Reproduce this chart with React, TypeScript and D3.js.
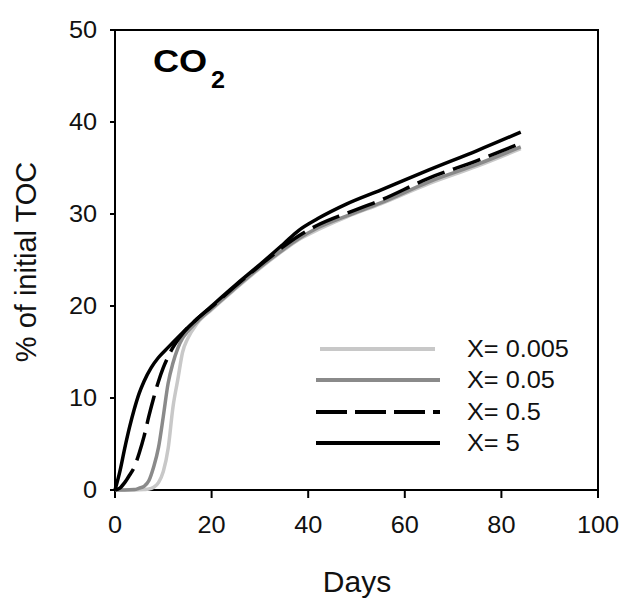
import React from "react";
import * as d3 from "d3";

const days5 = [0, 1, 2, 3, 4, 5, 6, 7.5, 9, 11, 14, 17, 20, 25, 30, 35, 38, 42, 48, 55, 65, 75, 84];
const vals5 = [0, 2, 4.5, 6.8, 8.8, 10.5, 11.8, 13.3, 14.4, 15.5, 17.1, 18.6, 20, 22.3, 24.5, 26.8, 28.2, 29.5, 31.1, 32.6, 34.8, 36.9, 38.9];

const days05 = [0, 1, 2, 3, 4, 5, 6, 7, 8, 9, 10, 11, 12, 14, 17, 20, 25, 30, 35, 38, 42, 48, 55, 65, 75, 84];
const vals05 = [0, 0.2, 0.8, 1.6, 2.5, 4, 5.8, 8, 10, 11.8, 13.3, 14.5, 15.5, 17, 18.6, 19.9, 22.2, 24.4, 26.5, 27.6, 28.8, 30.1, 31.5, 33.9, 35.8, 37.7];

const days005 = [0, 2, 4, 5, 6, 7, 8, 9, 10, 11, 12, 13, 14, 15, 17, 20, 25, 30, 35, 38, 42, 48, 55, 65, 75, 84];
const vals005 = [0, 0, 0.05, 0.2, 0.4, 1, 2.5, 4.6, 8, 11.6, 13.8, 15.4, 16.5, 17.2, 18.3, 19.7, 22, 24.2, 26.2, 27.3, 28.5, 29.8, 31.2, 33.5, 35.4, 37.3];

const days0005 = [0, 4, 6, 7, 8, 9, 10, 11, 12, 13, 14, 15, 17, 20, 25, 30, 35, 38, 42, 48, 55, 65, 75, 84];
const vals0005 = [0, 0, 0.05, 0.1, 0.3, 0.8, 2, 4.5, 9, 12, 15, 16.4, 18.1, 19.6, 21.9, 24.1, 26.1, 27.2, 28.3, 29.7, 31.1, 33.3, 35.2, 37.1];

const xTicks = [0, 20, 40, 60, 80, 100];
const yTicks = [0, 10, 20, 30, 40, 50];
const legendLabels = ["X= 0.005", "X= 0.05", "X= 0.5", "X= 5"];

const FONT = "'Liberation Sans', Arial, sans-serif";

export default function App() {
  const x = d3.scaleLinear().domain([0, 100]).range([115, 598]);
  const y = d3.scaleLinear().domain([0, 50]).range([490, 30]);

  const series = [
    { d: days0005, v: vals0005, color: "#c8c8c8", dash: undefined, w: 3.5 },
    { d: days005, v: vals005, color: "#8a8a8a", dash: undefined, w: 3.5 },
    { d: days05, v: vals05, color: "#000", dash: "29,9", w: 3.5 },
    { d: days5, v: vals5, color: "#000", dash: undefined, w: 3.5 },
  ];

  const line = d3
    .line<[number, number]>()
    .x((p) => x(p[0]))
    .y((p) => y(p[1]))
    .curve(d3.curveMonotoneX);

  const legendY = [349, 380, 412, 443];

  return (
    <svg width={621} height={601} style={{ display: "block", position: "absolute", left: 0, top: 0 }}>
      <rect x={0} y={0} width={621} height={601} fill="#fff" />
      {/* frame */}
      <rect x={x(0)} y={y(50)} width={x(100) - x(0)} height={y(0) - y(50)} fill="none" stroke="#000" strokeWidth={2} />
      {/* y ticks */}
      {yTicks.map((t) => (
        <g key={"y" + t}>
          <line x1={x(0) - 5} x2={x(0)} y1={y(t)} y2={y(t)} stroke="#000" strokeWidth={2} />
          <text
            transform={`translate(${x(0) - 18},${y(t) + 8}) scale(1.1,1)`}
            textAnchor="end"
            fontFamily={FONT}
            fontSize={23}
            fill="#111"
          >
            {t}
          </text>
        </g>
      ))}
      {/* x ticks */}
      {xTicks.map((t) => (
        <g key={"x" + t}>
          <line x1={x(t)} x2={x(t)} y1={y(0)} y2={y(0) + 8} stroke="#000" strokeWidth={2} />
          <text
            transform={`translate(${x(t)},${533}) scale(1.1,1)`}
            textAnchor="middle"
            fontFamily={FONT}
            fontSize={23}
            fill="#111"
          >
            {t}
          </text>
        </g>
      ))}
      {/* curves */}
      {series.map((s, i) => (
        <path
          key={i}
          d={line(s.d.map((dd, j) => [dd, s.v[j]] as [number, number])) || ""}
          fill="none"
          stroke={s.color}
          strokeWidth={s.w}
          strokeDasharray={s.dash}
          strokeLinejoin="round"
        />
      ))}
      {/* legend */}
      {series.map((s, i) => (
        <g key={"l" + i}>
          <line
            x1={i === 0 ? 320 : 316}
            x2={i === 0 ? 435 : 440}
            y1={legendY[i]}
            y2={legendY[i]}
            stroke={s.color}
            strokeWidth={4}
            strokeDasharray={s.dash ? "31,8" : undefined}
          />
          <text
            transform={`translate(467,${legendY[i] + 8}) scale(1.1,1)`}
            fontFamily={FONT}
            fontSize={23}
            fill="#111"
          >
            {legendLabels[i]}
          </text>
        </g>
      ))}
      {/* title */}
      <text transform="translate(153,72) scale(1.13,1)" fontFamily={FONT} fontWeight="bold" fontSize={32} fill="#000">
        CO
      </text>
      <text transform="translate(211,88) scale(1.05,1)" fontFamily={FONT} fontWeight="bold" fontSize={24} fill="#000">
        2
      </text>
      {/* axis titles */}
      <text x={357} y={592} textAnchor="middle" fontFamily={FONT} fontSize={30} fill="#111">
        Days
      </text>
      <text
        transform={`translate(36,262) rotate(-90)`}
        textAnchor="middle"
        fontFamily={FONT}
        fontSize={29}
        fill="#111"
      >
        % of initial TOC
      </text>
    </svg>
  );
}
